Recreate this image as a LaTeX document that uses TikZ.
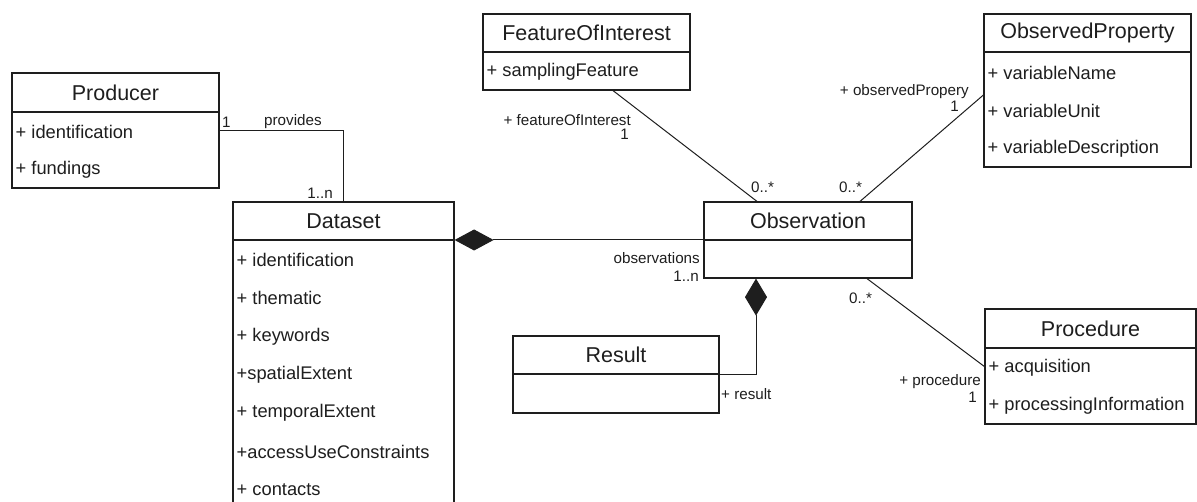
\documentclass[tikz,border=0pt]{standalone}
\usepackage{fontspec}
\setmainfont{Liberation Sans}
\usetikzlibrary{arrows.meta,calc}
\definecolor{ink}{HTML}{1E1E1E}
\begin{document}
\begin{tikzpicture}[x=1pt,y=-1pt,
  classbox/.style={draw=ink,line width=1.2pt,fill=white,inner sep=0pt},
  classname/.style={font=\fontsize{21.5}{23}\selectfont,text=ink},
  attr/.style={anchor=west,font=\fontsize{18.3}{20}\selectfont,text=ink,inner sep=0pt},
  role/.style={font=\fontsize{15.2}{16}\selectfont,text=ink,inner sep=0pt},
  assoc/.style={draw=ink,line width=1pt},
  compo/.style={draw=ink,line width=1pt}]
\useasboundingbox (0,0) rectangle (1197,502);
\clip (0,0) rectangle (1197,502);

% ---- Producer ----
\node[classbox,minimum width=207,minimum height=115] (prod) at (115.5,130.5) {};
\draw[ink,line width=1.2pt] (12,112) -- (219,112);
\node[classname] (prodT) at (115.5,92.5) {Producer};
\node[attr] (prodA1) at (15.5,132) {+ identification};
\node[attr] (prodA2) at (15.5,170) {+ fundings};

% ---- Dataset (runs past the lower edge) ----
\node[classbox,minimum width=221,minimum height=330] (ds) at (343.5,367) {};
\draw[ink,line width=1.2pt] (233,240) -- (454,240);
\node[classname] (dsT) at (343.5,221) {Dataset};
\node[attr] (dsA1) at (236.5,260) {+ identification};
\node[attr] (dsA2) at (236.5,298) {+ thematic};
\node[attr] (dsA3) at (236.5,337) {+ keywords};
\node[attr] (dsA4) at (236.5,375) {+spatialExtent};
\node[attr] (dsA5) at (236.5,413) {+ temporalExtent};
\node[attr] (dsA6) at (236.5,452) {+accessUseConstraints};
\node[attr] (dsA7) at (236.5,490) {+ contacts};

% ---- FeatureOfInterest ----
\node[classbox,minimum width=207,minimum height=76] (foi) at (586.5,52) {};
\draw[ink,line width=1.2pt] (483,52) -- (690,52);
\node[classname] (foiT) at (586.5,33) {FeatureOfInterest};
\node[attr] (foiA1) at (486.5,72) {+ samplingFeature};

% ---- ObservedProperty ----
\node[classbox,minimum width=207,minimum height=153] (op) at (1087.5,90.5) {};
\draw[ink,line width=1.2pt] (984,52) -- (1191,52);
\node[classname] (opT) at (1087.5,33) {ObservedProperty};
\node[attr] (opA1) at (987.5,73) {+ variableName};
\node[attr] (opA2) at (987.5,111) {+ variableUnit};
\node[attr] (opA3) at (987.5,149) {+ variableDescription};

% ---- Observation ----
\node[classbox,minimum width=208,minimum height=76] (obs) at (808,240) {};
\draw[ink,line width=1.2pt] (704,240) -- (912,240);
\node[classname] (obsT) at (808,221) {Observation};

% ---- Result ----
\node[classbox,minimum width=206,minimum height=77] (res) at (616,374.5) {};
\draw[ink,line width=1.2pt] (513,374) -- (719,374);
\node[classname] (resT) at (616,355) {Result};

% ---- Procedure ----
\node[classbox,minimum width=211,minimum height=115] (proc) at (1090.5,366.5) {};
\draw[ink,line width=1.2pt] (985,348) -- (1196,348);
\node[classname] (procT) at (1090.5,328.5) {Procedure};
\node[attr] (procA1) at (988.5,368) {+ acquisition};
\node[attr] (procA2) at (988.5,406) {+ processingInformation};

% ---- Connectors ----
% Producer provides Dataset
\draw[assoc] (prod.east) -| (ds.north);
% Dataset is composed of Observations
\draw[compo,-{Diamond[length=39pt,width=21pt]}] (obs.west) -- (ds.east |- obs.west);
% Observation is composed of a Result
\draw[compo,{Diamond[length=37pt,width=22pt]}-] ([shift={(-52,0)}]obs.south) |- (res.east);
% Observation associations
\draw[assoc] ([shift={(26.5,0)}]foi.south) -- ([shift={(-51,0)}]obs.north);
\draw[assoc] ([shift={(0,4.5)}]op.west) -- ([shift={(52,0)}]obs.north);
\draw[assoc] ([shift={(59,0)}]obs.south) -- (proc.west);

% ---- Role and multiplicity labels ----
\node[role,anchor=west] (l1) at (222,122) {1};
\node[role,anchor=west] (lprov) at (264,122) {provides};
\node[role,anchor=east] (l1n) at (333,193) {1..n};
\node[role,anchor=east] (lfoi) at (631,120) {+ featureOfInterest};
\node[role,anchor=east] (lfoi1) at (629,134) {1};
\node[role,anchor=west] (lfoim) at (751,187) {0..*};
\node[role,anchor=east] (lop) at (969,92) {+ observedPropery};
\node[role,anchor=east] (lop1) at (959,106) {1};
\node[role,anchor=west] (lopm) at (839,187) {0..*};
\node[role,anchor=east] (lobs) at (700,258) {observations};
\node[role,anchor=east] (lobs1) at (699,276) {1..n};
\node[role,anchor=west] (lprocm) at (849,298) {0..*};
\node[role,anchor=west] (lres) at (721,394) {+ result};
\node[role,anchor=east] (lproc) at (981,382) {+ procedure};
\node[role,anchor=east] (lproc1) at (977,397) {1};
\end{tikzpicture}
\end{document}
